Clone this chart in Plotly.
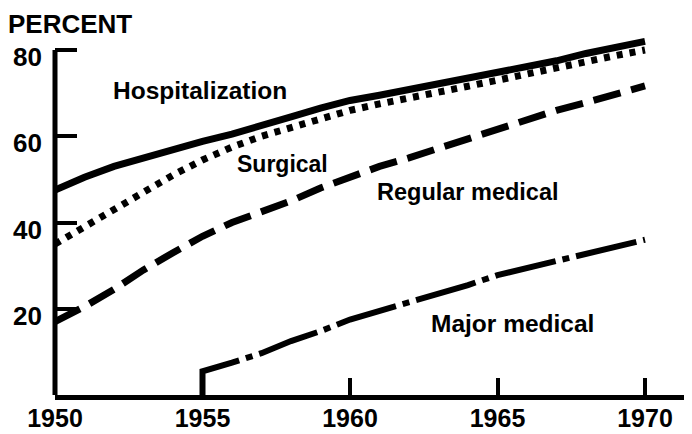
import plotly.graph_objects as go

years = list(range(1950, 1971))
hospitalization = [47.5, 50.5, 53.0, 55.0, 57.0, 58.8, 60.5, 62.3, 64.5, 66.5, 68.3,
                   69.5, 70.8, 72.0, 73.3, 74.5, 75.8, 77.5, 79.2, 80.5, 82.0]
surgical = [35.0, 39.0, 43.0, 47.0, 51.0, 54.5, 57.5, 60.0, 62.0, 64.0, 66.0,
            67.5, 69.0, 70.3, 71.6, 73.0, 74.5, 76.0, 77.5, 78.7, 80.0]
regular_medical = [17.0, 20.5, 24.5, 29.0, 33.0, 36.8, 40.0, 42.5, 45.0, 48.0, 50.5,
                   53.0, 55.0, 57.2, 59.5, 62.0, 64.2, 66.0, 67.8, 69.8, 71.7]
major_years = list(range(1955, 1971))
major_medical = [5.5, 7.5, 9.7, 12.5, 14.8, 17.5, 19.5, 21.5, 23.3, 25.5, 27.8,
                 29.5, 31.0, 32.6, 34.5, 36.0]

x_ticks = [1950, 1955, 1960, 1965, 1970]
x_tick_labels = ["1950", "1955", "1960", "1965", "1970"]
y_ticks = [20, 40, 60, 80]
y_tick_labels = ["20", "40", "60", "80"]

labels = ["Hospitalization", "Surgical", "Regular medical", "Major medical"]
label_x = [1954.9, 1957.7, 1964.0, 1965.5]
label_y = [70.5, 53.5, 47.0, 16.5]
label_size = [24.5, 23, 23.5, 24.5]

FONT = "Liberation Sans, Arial, sans-serif"

# page body has an 8px margin, so the figure is placed 8px in from the top-left
W, H = 684, 426
ML, MT, MB = 47, 25, 39
PX_PER_YEAR = 29.5
PX_PER_UNIT = 345 / 80

fig = go.Figure()
fig.add_trace(go.Scatter(x=years, y=hospitalization, mode="lines",
                         line=dict(color="black", width=7), name="Hospitalization"))
fig.add_trace(go.Scatter(x=years, y=surgical, mode="lines",
                         line=dict(color="black", width=7, dash="6px,7px"), name="Surgical"))
fig.add_trace(go.Scatter(x=years, y=regular_medical, mode="lines",
                         line=dict(color="black", width=7, dash="28px,11px"), name="Regular medical"))
fig.add_trace(go.Scatter(x=[1955] + major_years, y=[0] + major_medical, mode="lines",
                         line=dict(color="black", width=6, dash="62px,7px,7px,7px"),
                         name="Major medical"))

for t, xv, yv, sz in zip(labels, label_x, label_y, label_size):
    fig.add_annotation(x=xv, y=yv, text=f"<b>{t}</b>", showarrow=False,
                       font=dict(family=FONT, size=sz, color="black"),
                       xanchor="center", yanchor="middle")

# vertical axis line from 0 up to the 80 tick only
fig.add_shape(type="line", xref="paper", x0=0, x1=0, yref="y", y0=0, y1=y_ticks[-1],
              line=dict(color="black", width=5))

fig.update_layout(
    width=W, height=H,
    margin=dict(l=ML, r=0, t=MT, b=MB),
    paper_bgcolor="white", plot_bgcolor="white",
    showlegend=False,
    title=dict(text="<b>PERCENT</b>", x=0, xref="container", xanchor="left",
               y=1 - 7 / H, yref="container", yanchor="top",
               pad=dict(l=0, t=0, b=0, r=0),
               font=dict(family=FONT, size=26, color="black")),
)
plot_w = W - ML
plot_h = H - MT - MB
fig.update_xaxes(range=[1950, 1950 + plot_w / PX_PER_YEAR], showgrid=False, zeroline=False,
                 automargin=False,
                 showline=True, linecolor="black", linewidth=5,
                 tickmode="array", tickvals=x_ticks, ticktext=[f"<b>{s}</b>" for s in x_tick_labels],
                 ticks="inside", ticklen=17, tickwidth=4, tickcolor="black",
                 ticklabelstandoff=-3,
                 tickfont=dict(family=FONT, size=25, color="black"))
fig.update_yaxes(range=[0, plot_h / PX_PER_UNIT], showgrid=False, zeroline=False,
                 automargin=False,
                 showline=False,
                 tickmode="array", tickvals=y_ticks, ticktext=[f"<b>{s}</b>" for s in y_tick_labels],
                 ticks="inside", ticklen=22, tickwidth=4, tickcolor="black",
                 ticklabelstandoff=12, ticklabelshift=7,
                 tickfont=dict(family=FONT, size=26, color="black"))

fig.write_html("out.html")
